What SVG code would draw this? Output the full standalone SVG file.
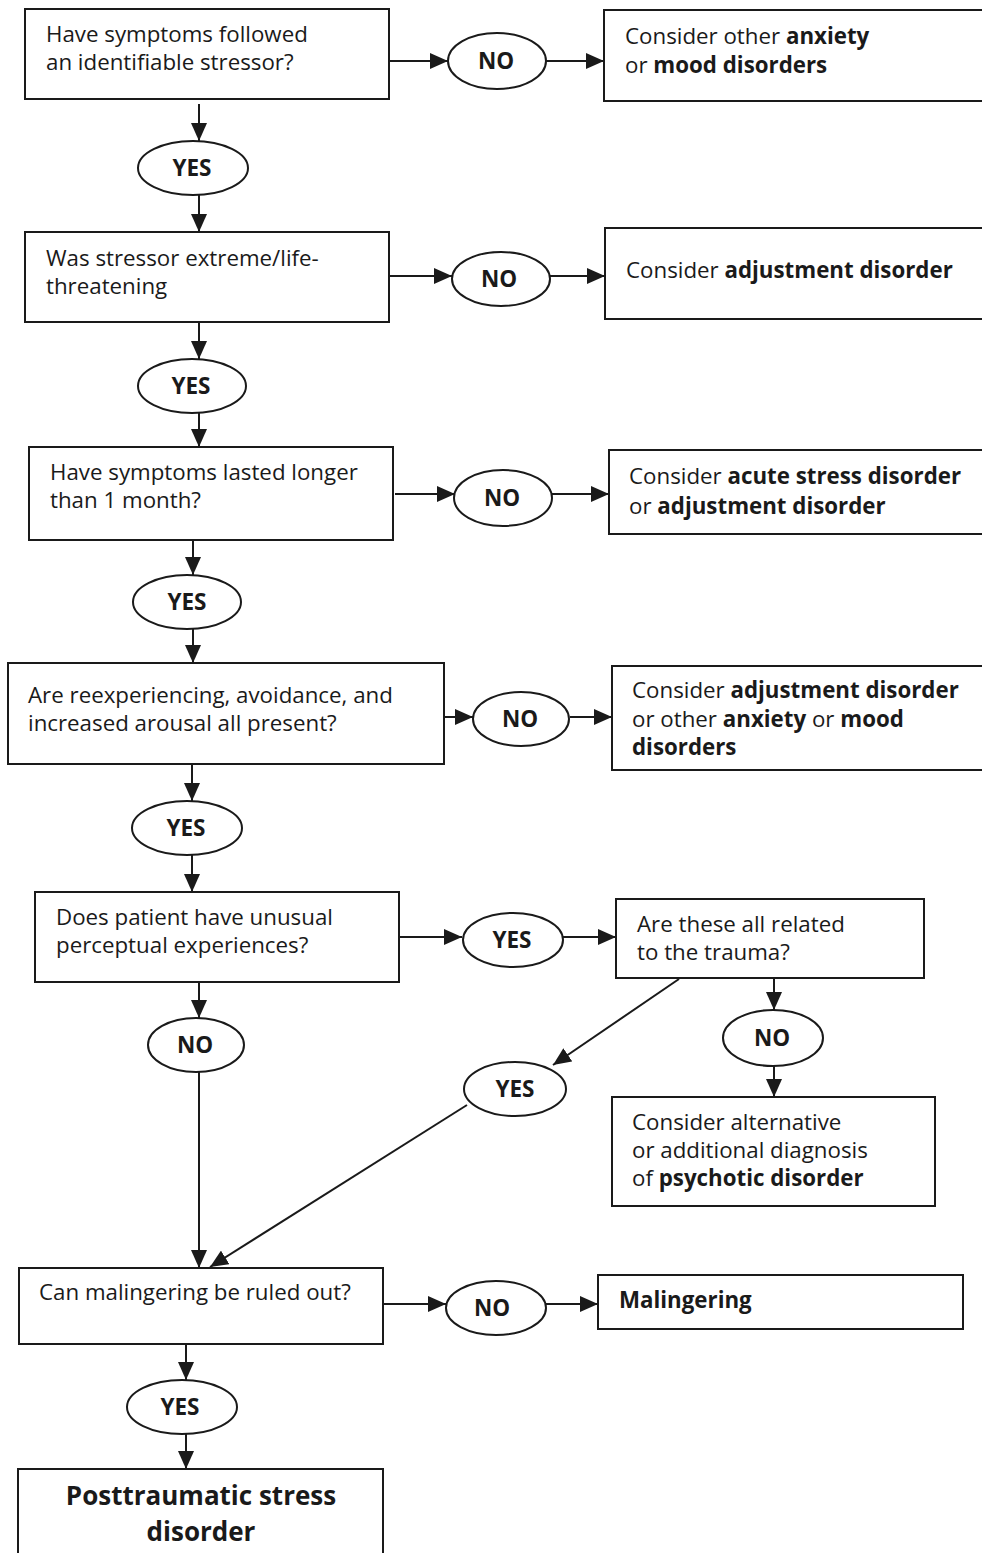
<svg xmlns="http://www.w3.org/2000/svg" width="982" height="1553" viewBox="0 0 982 1553">
<defs>
<marker id="ah" viewBox="0 0 18 16" refX="18" refY="8" markerWidth="18" markerHeight="16" markerUnits="userSpaceOnUse" orient="auto">
<path d="M0,0 L18,8 L0,16 Z" fill="#1a1a1a"/>
</marker>
</defs>
<style>
.n{fill:#fff;stroke:#1a1a1a;stroke-width:2}
ellipse{fill:#fff;stroke:#1a1a1a;stroke-width:2}
.c line{stroke:#1a1a1a;stroke-width:2;marker-end:url(#ah)}
text{font-family:"Open Sans","Noto Sans","Liberation Sans",sans-serif;font-size:22.3px;fill:#1a1a1a;font-weight:400}
.b{font-weight:700}
.lb{font-weight:700;font-size:22.5px;text-anchor:middle}
.big{font-weight:700;font-size:26px;text-anchor:middle}
</style>
<rect width="982" height="1553" fill="#fff"/>
<g class="c" id="connectors">
<line x1="389" y1="61" x2="448" y2="61"/>
<line x1="546" y1="61" x2="604" y2="61"/>
<line x1="199" y1="104" x2="199" y2="141"/>
<line x1="199" y1="195" x2="199" y2="232"/>
<line x1="389" y1="276" x2="452" y2="276"/>
<line x1="550" y1="276" x2="605" y2="276"/>
<line x1="199" y1="322" x2="199" y2="359"/>
<line x1="199" y1="413" x2="199" y2="447"/>
<line x1="395" y1="494" x2="455" y2="494"/>
<line x1="552" y1="494" x2="609" y2="494"/>
<line x1="193" y1="540" x2="193" y2="575"/>
<line x1="193" y1="629" x2="193" y2="663"/>
<line x1="444" y1="717" x2="473" y2="717"/>
<line x1="570" y1="717" x2="612" y2="717"/>
<line x1="192" y1="764" x2="192" y2="801"/>
<line x1="192" y1="855" x2="192" y2="892"/>
<line x1="399" y1="937" x2="462" y2="937"/>
<line x1="563" y1="937" x2="616" y2="937"/>
<line x1="774" y1="978" x2="774" y2="1010"/>
<line x1="774" y1="1066" x2="774" y2="1097"/>
<line x1="679" y1="979" x2="553" y2="1065"/>
<line x1="199" y1="982" x2="199" y2="1018"/>
<line x1="467" y1="1105" x2="210" y2="1267"/>
<line x1="199" y1="1072" x2="199" y2="1268"/>
<line x1="383" y1="1304" x2="446" y2="1304"/>
<line x1="546" y1="1304" x2="598" y2="1304"/>
<line x1="186" y1="1344" x2="186" y2="1380"/>
<line x1="186" y1="1434" x2="186" y2="1469"/>
</g>
<g id="q1"><rect class="n" x="25" y="9" width="364" height="90"/>
<text x="46" y="42">Have symptoms followed</text><text x="46" y="70">an identifiable stressor?</text></g>
<g id="no1"><ellipse cx="497" cy="61" rx="49" ry="28"/><text class="lb" x="496" y="69">NO</text></g>
<g id="r1"><rect class="n" x="604" y="10" width="390" height="91"/>
<text x="625" y="44">Consider other <tspan class="b">anxiety</tspan></text><text x="625" y="73">or <tspan class="b">mood disorders</tspan></text></g>
<g id="yes1"><ellipse cx="193" cy="168" rx="55" ry="27"/><text class="lb" x="192" y="176">YES</text></g>

<g id="q2"><rect class="n" x="25" y="232" width="364" height="90"/>
<text x="46" y="266">Was stressor extreme/life-</text><text x="46" y="294">threatening</text></g>
<g id="no2"><ellipse cx="501" cy="279" rx="49" ry="27"/><text class="lb" x="499" y="287">NO</text></g>
<g id="r2"><rect class="n" x="605" y="228" width="390" height="91"/>
<text x="626" y="278">Consider <tspan class="b">adjustment disorder</tspan></text></g>
<g id="yes2"><ellipse cx="192" cy="386" rx="54" ry="27"/><text class="lb" x="191" y="394">YES</text></g>

<g id="q3"><rect class="n" x="29" y="447" width="364" height="93"/>
<text x="50" y="480">Have symptoms lasted longer</text><text x="50" y="508">than 1 month?</text></g>
<g id="no3"><ellipse cx="503" cy="498" rx="49" ry="28"/><text class="lb" x="502" y="506">NO</text></g>
<g id="r3"><rect class="n" x="609" y="450" width="390" height="84"/>
<text x="629" y="484">Consider <tspan class="b">acute stress disorder</tspan></text><text x="629" y="514">or <tspan class="b">adjustment disorder</tspan></text></g>
<g id="yes3"><ellipse cx="187" cy="602" rx="54" ry="27"/><text class="lb" x="187" y="610">YES</text></g>

<g id="q4"><rect class="n" x="8" y="663" width="436" height="101"/>
<text x="28" y="703">Are reexperiencing, avoidance, and</text><text x="28" y="731">increased arousal all present?</text></g>
<g id="no4"><ellipse cx="521" cy="719" rx="48" ry="27"/><text class="lb" x="520" y="727">NO</text></g>
<g id="r4"><rect class="n" x="612" y="666" width="390" height="104"/>
<text x="632" y="698">Consider <tspan class="b">adjustment disorder</tspan></text><text x="632" y="727">or other <tspan class="b">anxiety</tspan> or <tspan class="b">mood</tspan></text><text x="632" y="755" class="b">disorders</text></g>
<g id="yes4"><ellipse cx="187" cy="828" rx="55" ry="27"/><text class="lb" x="186" y="836">YES</text></g>

<g id="q5"><rect class="n" x="35" y="892" width="364" height="90"/>
<text x="56" y="925">Does patient have unusual</text><text x="56" y="953">perceptual experiences?</text></g>
<g id="yes5"><ellipse cx="513" cy="940" rx="50" ry="27"/><text class="lb" x="512" y="948">YES</text></g>
<g id="q6"><rect class="n" x="616" y="899" width="308" height="79"/>
<text x="637" y="932">Are these all related</text><text x="637" y="960">to the trauma?</text></g>
<g id="no6"><ellipse cx="773" cy="1038" rx="50" ry="28"/><text class="lb" x="772" y="1046">NO</text></g>
<g id="r6"><rect class="n" x="612" y="1097" width="323" height="109"/>
<text x="632" y="1130">Consider alternative</text><text x="632" y="1158">or additional diagnosis</text><text x="632" y="1186">of <tspan class="b">psychotic disorder</tspan></text></g>
<g id="yes6"><ellipse cx="515" cy="1089" rx="51" ry="27"/><text class="lb" x="515" y="1097">YES</text></g>
<g id="no5"><ellipse cx="196" cy="1045" rx="48" ry="27"/><text class="lb" x="195" y="1053">NO</text></g>

<g id="q7"><rect class="n" x="19" y="1268" width="364" height="76"/>
<text x="39" y="1300">Can malingering be ruled out?</text></g>
<g id="no7"><ellipse cx="496" cy="1308" rx="50" ry="27"/><text class="lb" x="492" y="1316">NO</text></g>
<g id="r7"><rect class="n" x="598" y="1275" width="365" height="54"/>
<text x="619" y="1308" class="b">Malingering</text></g>
<g id="yes7"><ellipse cx="182" cy="1407" rx="55" ry="27"/><text class="lb" x="180" y="1415">YES</text></g>
<g id="ptsd"><rect class="n" x="18" y="1469" width="365" height="100"/>
<text class="big" x="201" y="1505">Posttraumatic stress</text><text class="big" x="201" y="1541">disorder</text></g>
</svg>
